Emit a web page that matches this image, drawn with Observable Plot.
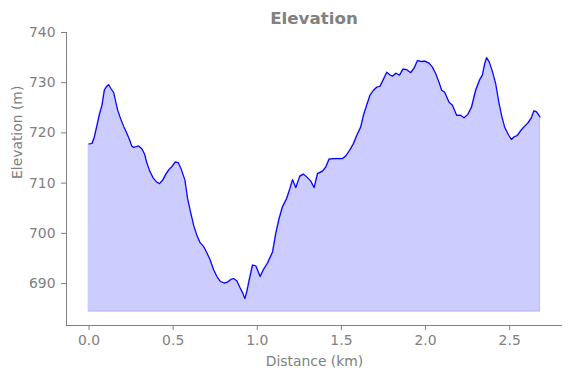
<!DOCTYPE html>
<html>
<head>
<meta charset="utf-8">
<script src="https://cdn.jsdelivr.net/npm/d3@7"></script>
<script src="https://cdn.jsdelivr.net/npm/@observablehq/plot@0.6"></script>
<style>
  html, body { margin: 0; padding: 0; background: white; }
  #wrap { position: relative; width: 571px; height: 378px; }
  #title { position: absolute; left: 66px; width: 496px; top: 8px; height: 20px; line-height: 20px;
           text-align: center; font-family: "DejaVu Sans", sans-serif; font-weight: bold;
           font-size: 16.7px; color: #808080; }
</style>
</head>
<body>
<div id="wrap"><div id="title">Elevation</div></div>
<script>
const distance = [0.000,0.018,0.031,0.046,0.061,0.077,0.091,0.103,0.117,0.129,0.147,0.159,0.170,0.186,0.206,0.220,0.238,0.254,0.265,0.283,0.295,0.315,0.331,0.344,0.362,0.382,0.400,0.419,0.438,0.457,0.475,0.493,0.512,0.530,0.550,0.570,0.586,0.602,0.622,0.641,0.661,0.681,0.701,0.720,0.740,0.760,0.781,0.803,0.824,0.843,0.859,0.879,0.897,0.914,0.926,0.938,0.950,0.965,0.972,0.992,1.017,1.037,1.061,1.091,1.110,1.130,1.150,1.174,1.194,1.210,1.229,1.253,1.275,1.295,1.318,1.338,1.358,1.388,1.407,1.427,1.457,1.482,1.507,1.526,1.552,1.572,1.591,1.615,1.631,1.651,1.670,1.691,1.710,1.730,1.750,1.770,1.787,1.803,1.825,1.845,1.866,1.888,1.912,1.932,1.952,1.976,1.995,2.021,2.041,2.061,2.080,2.096,2.114,2.140,2.160,2.185,2.209,2.229,2.252,2.273,2.298,2.322,2.338,2.352,2.363,2.379,2.397,2.417,2.436,2.452,2.470,2.492,2.510,2.526,2.546,2.565,2.585,2.609,2.629,2.644,2.660,2.680];
const elevation = [717.8,717.9,719.1,721.3,723.6,725.5,728.5,729.2,729.6,728.9,728.0,726.2,724.6,723.0,721.3,720.3,718.9,717.4,717.1,717.3,717.4,716.8,715.7,714.0,712.3,711.0,710.3,709.9,710.6,711.8,712.7,713.3,714.2,714.1,712.6,710.6,706.9,704.5,701.6,699.6,698.1,697.4,696.1,694.7,692.8,691.4,690.4,690.1,690.3,690.8,691.0,690.5,689.2,688.1,687.0,688.4,690.4,692.7,693.7,693.5,691.4,692.8,694.1,696.3,700.0,703.0,705.3,706.9,708.9,710.7,709.1,711.4,711.8,711.2,710.4,709.1,711.9,712.4,713.2,714.8,714.9,714.9,714.9,715.4,716.7,717.9,719.5,721.2,723.5,725.6,727.5,728.5,729.1,729.3,730.7,732.1,731.6,731.3,731.9,731.5,732.7,732.6,732.0,732.9,734.4,734.2,734.3,733.9,733.1,731.8,730.1,728.5,728.1,726.1,725.5,723.5,723.5,723.0,723.7,725.1,728.5,730.6,731.5,733.8,735.0,734.1,732.3,729.8,726.1,723.5,721.2,719.7,718.7,719.2,719.5,720.4,721.2,722.0,723.0,724.4,724.2,723.2];
const fillBase = 684.4;
const xTicks = [0, 0.5, 1.0, 1.5, 2.0, 2.5];
const yTicks = [690, 700, 710, 720, 730, 740];
const xDomain = [-0.134, 2.814];
const yDomain = [681.65, 740];

const data = distance.map((d, i) => ({d, e: elevation[i]}));

const chart = Plot.plot({
  width: 571,
  height: 378,
  marginTop: 32,
  marginBottom: 53,
  marginLeft: 66,
  marginRight: 9,
  style: {fontFamily: "DejaVu Sans, sans-serif", fontSize: "13.9px", color: "#808080", background: "transparent"},
  x: {domain: xDomain},
  y: {domain: yDomain},
  marks: [
    Plot.areaY(data, {x: "d", y1: fillBase, y2: "e", fill: "blue", fillOpacity: 0.2, stroke: "blue", strokeOpacity: 0.2, strokeWidth: 1}),
    Plot.line(data, {x: "d", y: "e", stroke: "blue", strokeWidth: 1.2}),
    Plot.ruleX([xDomain[0]], {stroke: "#808080", strokeWidth: 1}),
    Plot.ruleY([yDomain[0]], {stroke: "#808080", strokeWidth: 1}),
    Plot.axisX({ticks: xTicks, tickFormat: d3.format(".1f"), tickSize: 5, tickPadding: 5, label: null}),
    Plot.axisY({ticks: yTicks, tickFormat: d3.format("d"), tickSize: 5, tickPadding: 6, label: null}),
    Plot.text(["Distance (km)"], {frameAnchor: "bottom", dy: 36, lineAnchor: "middle", fill: "#808080"}),
    Plot.text(["Elevation (m)"], {frameAnchor: "left", dx: -49, rotate: -90, lineAnchor: "middle", fill: "#808080"})
  ]
});
chart.style.position = "absolute";
chart.style.left = "0px";
chart.style.top = "0px";
document.getElementById("wrap").prepend(chart);
</script>
</body>
</html>
